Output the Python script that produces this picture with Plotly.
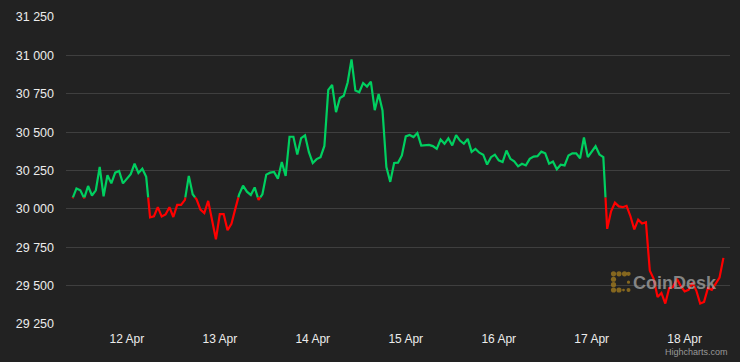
import plotly.graph_objects as go
import pandas as pd

# ---- data (hourly BTC price) ----
start_time = "2023-04-11 10:00"
prices = [
    30069, 30133, 30121, 30069, 30149, 30087, 30121, 30273, 30082, 30219,
    30166, 30236, 30247, 30166, 30198, 30226, 30294, 30234, 30262, 30209,
    29945, 29952, 30011, 29950, 29963, 30011, 29947, 30026, 30026, 30059,
    30215, 30095, 30062, 29995, 29973, 30052, 29928, 29802, 29966, 29966,
    29861, 29902, 30000, 30095, 30151, 30112, 30091, 30140, 30059, 30095,
    30223, 30236, 30240, 30197, 30305, 30215, 30470, 30470, 30354, 30461,
    30479, 30369, 30299, 30324, 30337, 30410, 30775, 30807, 30630, 30722,
    30737, 30823, 30974, 30771, 30760, 30820, 30797, 30829, 30643, 30748,
    30641, 30273, 30176, 30299, 30301, 30348, 30472, 30481, 30468, 30494,
    30413, 30413, 30417, 30409, 30391, 30452, 30424, 30460, 30413, 30481,
    30445, 30424, 30456, 30371, 30391, 30366, 30353, 30289, 30337, 30353,
    30316, 30305, 30380, 30326, 30309, 30277, 30294, 30283, 30326, 30341,
    30343, 30373, 30362, 30294, 30309, 30258, 30288, 30283, 30348, 30362,
    30362, 30330, 30465, 30337, 30369, 30408, 30354, 30337, 29870, 29984,
    30040, 30016, 30011, 30020, 29952, 29866, 29930, 29905, 29913, 29597,
    29544, 29426, 29452, 29383, 29484, 29491, 29544, 29497, 29462, 29473,
    29518, 29468, 29383, 29394, 29484, 29473, 29511, 29553, 29681,
]
threshold = 30075
y_ticks = [29250, 29500, 29750, 30000, 30250, 30500, 30750, 31000, 31250]
x_tick_start = "2023-04-12"

GREEN = "#00d060"
RED = "#ff0000"
BG = "#222222"
GRID = "#3f3f3f"
TEXT = "#ececec"
FONT = "Liberation Sans, Arial, sans-serif"

times = list(pd.date_range(start_time, periods=len(prices), freq="h"))


def split_runs(ts, ys, thr):
    runs = []
    cur = [(ts[0], ys[0])]
    up = ys[0] >= thr
    for i in range(1, len(ys)):
        u = ys[i] >= thr
        if u == up:
            cur.append((ts[i], ys[i]))
        else:
            f = (thr - ys[i - 1]) / (ys[i] - ys[i - 1])
            tc = ts[i - 1] + (ts[i] - ts[i - 1]) * f
            cur.append((tc, thr))
            runs.append((up, cur))
            cur = [(tc, thr), (ts[i], ys[i])]
            up = u
    runs.append((up, cur))
    return runs


gx, gy, rx, ry = [], [], [], []
for up, run in split_runs(times, prices, threshold):
    xs = [p[0] for p in run] + [None]
    ys = [p[1] for p in run] + [None]
    if up:
        gx += xs; gy += ys
    else:
        rx += xs; ry += ys

fig = go.Figure()
fig.add_trace(go.Scatter(x=rx, y=ry, mode="lines", line=dict(color=RED, width=2.2),
                         hoverinfo="skip", showlegend=False))
fig.add_trace(go.Scatter(x=gx, y=gy, mode="lines", line=dict(color=GREEN, width=2.2),
                         hoverinfo="skip", showlegend=False))

W, H = 740, 362
ML, MR, MT, MB = 66, 10, 12, 38


def px(x):
    return (x - ML) / (W - ML - MR)


def py(y):
    return (H - MB - y) / (H - MT - MB)


# CoinDesk watermark
shapes = []
GOLD = "rgba(150,115,30,0.85)"
for (cx, cy, r) in [(613.5, 273, 2.6), (619, 273, 2.6), (624.5, 273, 2.6), (628.5, 273, 2.2),
                    (613.5, 278.5, 2.6), (613.5, 284, 2.6), (613.5, 289.5, 2.6),
                    (619, 289.5, 2.6), (628.5, 281.5, 1.6), (628.5, 289.5, 2.0),
                    (623.5, 289.5, 1.4)]:
    shapes.append(dict(type="circle", xref="paper", yref="paper",
                       x0=px(cx - r), x1=px(cx + r), y0=py(cy + r), y1=py(cy - r),
                       fillcolor=GOLD, line=dict(width=0), layer="above"))

annotations = [
    dict(text="<b>CoinDesk</b>", xref="paper", yref="paper", x=px(675), y=py(282),
         xanchor="center", yanchor="middle", showarrow=False,
         font=dict(family=FONT, size=18, color="rgba(165,165,165,0.75)")),
    dict(text="Highcharts.com", xref="paper", yref="paper", x=px(730), y=py(352.5),
         xanchor="right", yanchor="middle", showarrow=False,
         font=dict(family=FONT, size=9, color="#999999")),
]

fig.update_layout(
    width=W, height=H,
    margin=dict(l=ML, r=MR, t=MT, b=MB, pad=0),
    paper_bgcolor=BG, plot_bgcolor=BG,
    separators=". ",
    font=dict(family=FONT, size=12, color=TEXT),
    shapes=shapes, annotations=annotations,
    xaxis=dict(
        type="date",
        range=["2023-04-11 08:18", "2023-04-18 11:42"],
        tick0=x_tick_start, dtick=86400000, tickformat="%-d %b",
        showgrid=False, zeroline=False, showline=False, ticks="",
        tickfont=dict(family=FONT, size=12, color=TEXT),
        ticklabelstandoff=6,
    ),
    yaxis=dict(
        range=[y_ticks[0], y_ticks[-1]],
        tickvals=y_ticks, tickformat=",d",
        showgrid=True, gridcolor=GRID, gridwidth=1,
        zeroline=False, showline=False, ticks="",
        tickfont=dict(family=FONT, size=12.5, color=TEXT),
        ticklabelstandoff=11,
    ),
)

fig.write_html("out.html")
